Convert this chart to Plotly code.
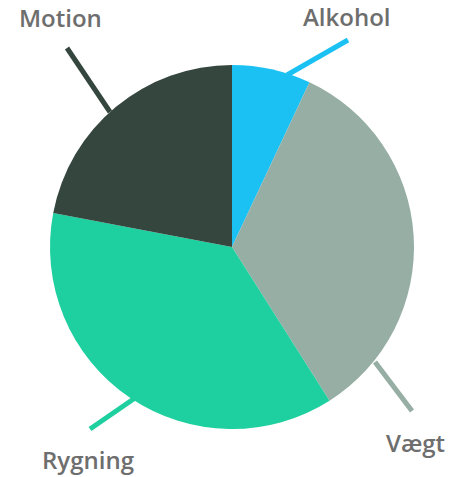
import plotly.graph_objects as go

categories = ["Alkohol", "Vægt", "Rygning", "Motion"]
values = [7, 34, 37, 22]
colors = ["#1cc1f4", "#97aea4", "#1ecf9f", "#34463e"]

W, H = 456, 477
cx, cy, r = 232, 247, 182

def px(x):
    return x / W

def py(y):
    return 1 - y / H

fig = go.Figure(go.Pie(
    labels=categories, values=values, sort=False, direction="clockwise",
    rotation=0, marker=dict(colors=colors, line=dict(width=0)),
    textinfo="none", hoverinfo="label+percent", showlegend=False,
    domain=dict(x=[px(cx - r), px(cx + r)], y=[py(cy + r), py(cy - r)]),
))

# leader lines (inner point, outer point) and label anchors, in window pixels
leaders = {
    "Alkohol": ((287, 75), (348, 40), (347, 17)),
    "Vægt": ((375, 362), (412, 411), (415, 442)),
    "Rygning": ((135, 398), (90, 429), (88, 459)),
    "Motion": ((110, 112), (67, 48), (60, 18)),
}

shapes = []
annotations = []
for cat, col in zip(categories, colors):
    (x0, y0), (x1, y1), (tx, ty) = leaders[cat]
    shapes.append(dict(type="line", xref="paper", yref="paper",
                       x0=px(x0), y0=py(y0), x1=px(x1), y1=py(y1),
                       line=dict(color=col, width=5), layer="below"))
    annotations.append(dict(text=cat, xref="paper", yref="paper",
                            x=px(tx), y=py(ty), showarrow=False,
                            xanchor="center", yanchor="middle",
                            font=dict(family="Open Sans", size=24, color="#6e6e6e", weight=600)))

fig.update_layout(
    width=W, height=H, margin=dict(l=0, r=0, t=0, b=0),
    paper_bgcolor="white", plot_bgcolor="white",
    shapes=shapes, annotations=annotations,
)

fig.write_html("out.html", config={"displayModeBar": False},
               post_script="document.body.style.margin='0';document.body.style.overflow='hidden';")
